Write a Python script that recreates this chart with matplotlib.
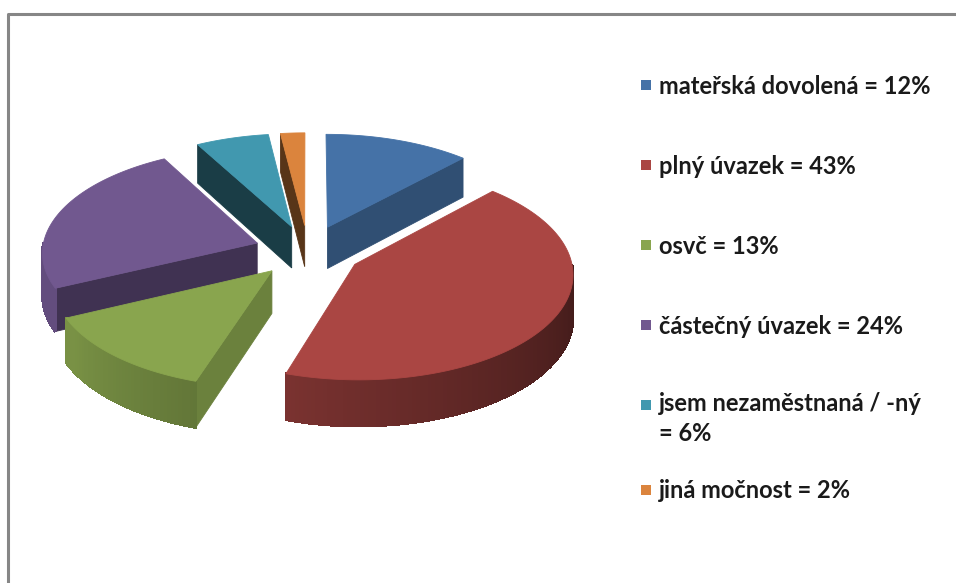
import numpy as np
import matplotlib
matplotlib.use("Agg")
import matplotlib.pyplot as plt
from matplotlib.patches import Polygon, Rectangle
from matplotlib.lines import Line2D

# data
labels = ["mateřská dovolená = 12%", "plný úvazek = 43%", "osvč = 13%",
          "částečný úvazek = 24%", "jsem nezaměstnaná / -ný\n= 6%",
          "jiná močnost = 2%"]
values = [12, 43, 13, 24, 6, 2]
colors = ["#4572A7", "#AA4643", "#89A54E", "#71588F", "#4198AF", "#DB843D"]

plt.rcParams['font.family'] = ['Lato', 'DejaVu Sans']

fig = plt.figure(figsize=(9.56, 5.83), dpi=100)
ax = fig.add_axes([0, 0, 1, 1])
ax.set_xlim(0, 956)
ax.set_ylim(583, 0)
ax.axis('off')

# pie geometry (pixels)
cx, cy = 308, 251
rx, ry = 215, 104
depth = 42
explode = 0.25
persp = 0.08


def proj(X, Z, bottom=False):
    f = 1.0 / (1.0 + persp * Z)
    sx = cx + rx * X * f
    sy = cy - ry * Z * f + (depth * f if bottom else 0)
    return sx, sy


def shade(c, k):
    r, g, b = matplotlib.colors.to_rgb(c)
    return (r * k, g * k, b * k)


def wall_factor(t):
    u = np.clip((t - 90) / 150.0, 0, 1)
    return 0.38 + 0.5 * u ** 1.2


def cut_factor(phi):
    return 0.4 + 0.4 * max(0, np.sin(np.radians(phi)))


total = float(sum(values))
starts = np.cumsum([0] + values[:-1]) / total * 360
ends = np.cumsum(values) / total * 360

slices = []
for i in range(len(values)):
    a, b = starts[i], ends[i]
    m = np.radians((a + b) / 2)
    ox, oz = explode * np.sin(m), explode * np.cos(m)
    slices.append((0.75 * np.cos(m) + oz, i, a, b, ox, oz))

# back to front
slices.sort(key=lambda s: -s[0])

for _, i, a, b, ox, oz in slices:
    col = colors[i]

    def rim(t, bottom=False):
        tr = np.radians(t)
        return proj(np.sin(tr) + ox, np.cos(tr) + oz, bottom)

    apex_t = proj(ox, oz)
    apex_b = proj(ox, oz, True)

    # cut faces
    for t, phi in ((a, a - 90), (b, b + 90)):
        if -np.cos(np.radians(phi)) > 0:
            pts = [apex_t, rim(t), rim(t, True), apex_b]
            c = shade(col, cut_factor(phi % 360))
            ax.add_patch(Polygon(pts, closed=True, facecolor=c, edgecolor=c, lw=0.6))

    # outer wall, front-facing part
    lo, hi = max(a, 90), min(b, 270)
    if hi > lo:
        ts = np.linspace(lo, hi, int(hi - lo) + 2)
        for t0, t1 in zip(ts[:-1], ts[1:]):
            pts = [rim(t0), rim(t1), rim(t1, True), rim(t0, True)]
            c = shade(col, wall_factor((t0 + t1) / 2))
            ax.add_patch(Polygon(pts, closed=True, facecolor=c, edgecolor=c,
                                 lw=1.3, antialiased=False))

    # top face
    ts = np.linspace(a, b, max(int(b - a) * 2, 4))
    pts = [apex_t] + [rim(t) for t in ts]
    ax.add_patch(Polygon(pts, closed=True, facecolor=col, edgecolor=col, lw=0.6))

# legend
ys = [85, 165, 245, 325, 405, 490]
for lab, col, y in zip(labels, colors, ys):
    ax.add_patch(Rectangle((641, y - 5), 10, 10, facecolor=col, edgecolor='none'))
    if '\n' in lab:
        ax.text(659, y - 13, lab, fontsize=17, fontweight='bold', color='#1a1a1a',
                va='top', ha='left', linespacing=1.35)
    else:
        ax.text(659, y + 1, lab, fontsize=17, fontweight='bold', color='#1a1a1a',
                va='center', ha='left')

# chart frame
fig.add_artist(Line2D([8 / 956, 8 / 956, 1], [0, 1 - 14 / 583, 1 - 14 / 583],
                      color='#868686', lw=2.2, transform=fig.transFigure))

fig.savefig("out.png", dpi=100)
